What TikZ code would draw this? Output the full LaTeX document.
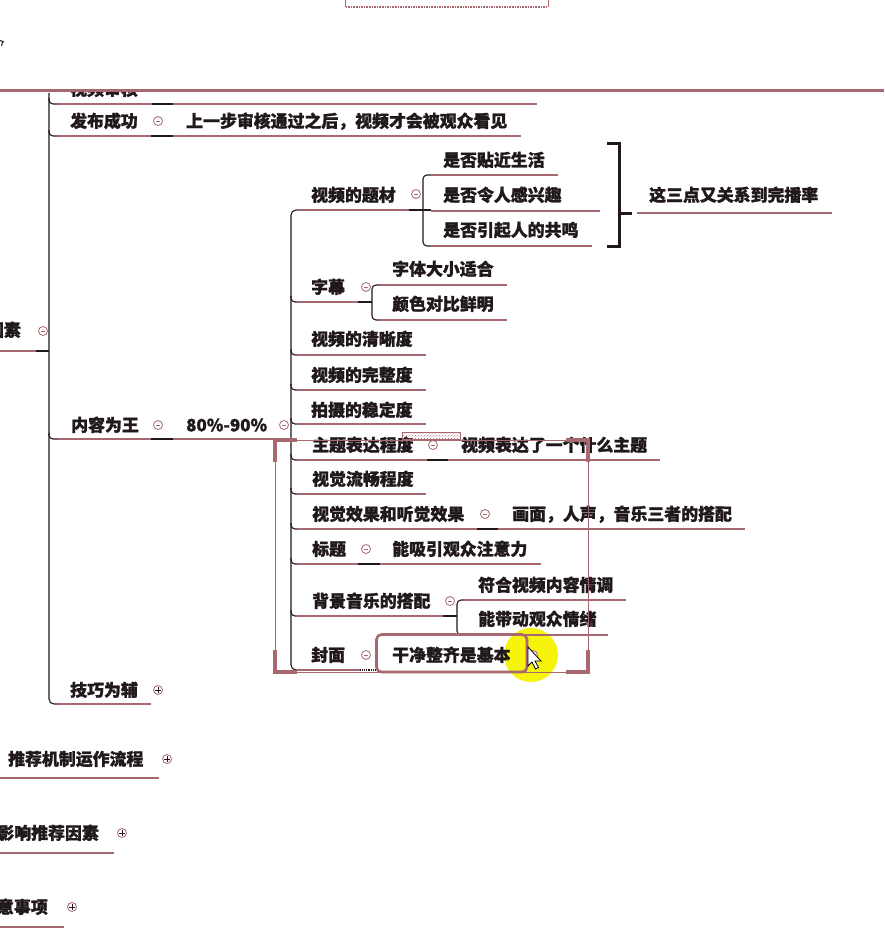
\documentclass[tikz,border=0pt]{standalone}
\usepackage{fontspec}
\newfontfamily\cjk{Noto Sans CJK SC}[BoldFeatures={FakeBold=1.3}]
\usetikzlibrary{patterns}
\definecolor{mauve}{RGB}{168,104,112}
\definecolor{ink}{RGB}{32,24,28}
\definecolor{hl}{RGB}{246,244,12}
\newcommand\tx[4]{\node[lbl,anchor=base west] (#1) at (#2,#3+6.3) {#4};}
\newcommand\txe[4]{\node[lbl,anchor=base east] (#1) at (#2,#3+6.3) {#4};}
\newcommand\ul[3]{\draw[ulin] (#1,#3) -- (#2,#3);}
\newcommand\mn[3]{\node[tog] (#1) at (#2,#3) {};\draw[mauve,line width=0.9pt] ([xshift=-2.4pt]#1.center) -- ([xshift=2.4pt]#1.center);}
\newcommand\pl[3]{\node[tog] (#1) at (#2,#3) {};\draw[ink,line width=0.9pt] ([xshift=-2.6pt]#1.center) -- ([xshift=2.6pt]#1.center) ([yshift=-2.6pt]#1.center) -- ([yshift=2.6pt]#1.center);}
\newcommand\stub[3]{\draw[conn,rounded corners=4pt] (#1,#3-6) |- (#2,#3);}
\begin{document}
\begin{tikzpicture}[x=1pt,y=-1pt,
  lbl/.style={inner sep=0pt,font=\cjk\bfseries\fontsize{16.9}{18}\selectfont,text=ink},
  ulin/.style={draw=mauve,line width=2.6pt},
  conn/.style={draw=ink,line width=1.1pt},
  tog/.style={circle,draw=mauve,line width=0.8pt,minimum size=9pt,inner sep=0pt,fill=white}]
\fill[white] (0,0) rectangle (884,944);
\useasboundingbox (0,0) rectangle (884,944);
\clip (0,0) rectangle (884,944);

% cursor highlight
\fill[hl] (531,655) circle (27);

% top fragments
\draw[mauve,line width=1pt] (345.5,-2) -- (345.5,7);
\draw[mauve,line width=1pt] (548,-2) -- (548,7);
\draw[mauve,line width=1.6pt,densely dotted] (345.5,7) -- (548,7);
\draw[ink,line width=1pt] (0,40.5) -- (4,42) (2.6,41.6) -- (1.6,46);

% partially hidden node
\begin{scope}
\clip (0,93) rectangle (884,120);
\tx{sh}{70}{89}{视频审核}
\end{scope}
\draw[mauve,line width=3pt] (0,91) -- (884,91);

% root fragment
\txe{ys}{21}{330}{因素}
\ul{0}{36}{351}
\mn{ysm}{43}{331}
\draw[conn] (36,351) -- (49,351);

% main vertical
\draw[conn,rounded corners=5pt] (49,93) -- (49,704) -- (58,704);
\stub{49}{58}{104}
\stub{49}{58}{136}
\stub{49}{58}{439}

% 视频审核
\ul{58}{152}{104}
\draw[conn] (152,104) -- (173,104);
\ul{173}{537}{104}

% 发布成功
\tx{fb}{70}{121}{发布成功}
\ul{58}{151}{136}
\mn{fbm}{158}{121}
\draw[conn] (151,136) -- (173,136);
\tx{fbr}{186}{121}{上一步审核通过之后，视频才会被观众看见}
\ul{173}{521}{136}

% 内容为王
\tx{nr}{71}{425}{内容为王}
\ul{58}{151}{439}
\mn{nrm}{158}{425}
\draw[conn] (151,439) -- (173,439);
\tx{pct}{186}{425}{80\%-90\%}
\ul{173}{291}{439}
\mn{pctm}{284}{425}

% sub vertical
\draw[conn,rounded corners=5pt] (298,210) -- (291,210) -- (291,670) -- (298,670);
\stub{291}{298}{302}
\stub{291}{298}{355}
\stub{291}{298}{390}
\stub{291}{298}{424}
\stub{291}{298}{460}
\stub{291}{298}{494}
\stub{291}{298}{529}
\stub{291}{298}{564}
\stub{291}{298}{616}

% 视频的题材
\tx{tc}{311}{195}{视频的题材}
\ul{297}{409}{210}
\mn{tcm}{416}{194}
\draw[conn] (409,210) -- (431,210);
\draw[conn,rounded corners=4pt] (431,175) -- (423,175) -- (423,246) -- (431,246);
\tx{a1}{443}{160}{是否贴近生活}
\ul{431}{558}{175}
\tx{a2}{443}{195}{是否令人感兴趣}
\ul{431}{600}{211}
\tx{a3}{443}{230}{是否引起人的共鸣}
\ul{431}{592}{246}
\draw[ink,line width=3pt] (607,143.5) -- (619.5,143.5) -- (619.5,246) -- (607,246);
\draw[ink,line width=3pt] (619.5,213) -- (632,213);
\tx{sum}{649}{195}{这三点又关系到完播率}
\ul{637}{832}{213}

% 字幕
\tx{zm}{311}{287}{字幕}
\ul{297}{358}{302}
\mn{zmm}{366}{287}
\draw[conn] (358,302) -- (372,302);
\draw[conn,rounded corners=4pt] (380,285) -- (372,285) -- (372,320) -- (380,320);
\tx{b1}{392}{269}{字体大小适合}
\ul{380}{507}{285}
\tx{b2}{392}{304}{颜色对比鲜明}
\ul{380}{507}{320}

% simple children
\tx{c1}{311}{339}{视频的清晰度}
\ul{297}{426}{355}
\tx{c2}{311}{375}{视频的完整度}
\ul{297}{426}{390}
\tx{c3}{311}{410}{拍摄的稳定度}
\ul{297}{426}{424}

% 主题表达程度
\tx{d1}{312}{445}{主题表达程度}
\ul{297}{427}{460}
\mn{d1m}{433}{445}
\draw[conn] (427,460) -- (448,460);
\tx{d1r}{461}{445}{视频表达了一个什么主题}
\ul{448}{660}{460}

\tx{d2}{312}{479}{视觉流畅程度}
\ul{297}{426}{494}

% 视觉效果和听觉效果
\tx{d3}{312}{514}{视觉效果和听觉效果}
\ul{297}{477}{529}
\mn{d3m}{485}{514}
\draw[conn] (477,529) -- (498,529);
\tx{d3r}{512}{514}{画面，人声，音乐三者的搭配}
\ul{498}{745}{529}

% 标题
\tx{d4}{312}{549}{标题}
\ul{297}{358}{564}
\mn{d4m}{366}{549}
\draw[conn] (358,564) -- (380,564);
\tx{d4r}{392}{549}{能吸引观众注意力}
\ul{380}{541}{564}

% 背景音乐的搭配
\tx{d5}{312}{601}{背景音乐的搭配}
\ul{297}{443}{616}
\mn{d5m}{450}{601}
\draw[conn] (443,616) -- (457,616);
\draw[conn,rounded corners=4pt] (465,600) -- (457,600) -- (457,635) -- (465,635);
\tx{e1}{478}{585}{符合视频内容情调}
\ul{465}{626}{600}
\tx{e2}{478}{619}{能带动观众情绪}
\ul{465}{608}{635}

% 封面
\tx{d6}{311}{655}{封面}
\ul{297}{360}{670}
\mn{d6m}{366}{655}
\draw[conn,densely dotted] (360,670) -- (378,670);
\tx{d6r}{392}{655}{干净整齐是基本}
\draw[mauve,line width=2.6pt,rounded corners=5pt] (376.5,634.5) rectangle (527,672);
\pl{d6p}{533}{655}

% 技巧为辅
\tx{jq}{70}{690}{技巧为辅}
\ul{58}{151}{704}
\pl{jqp}{158}{690}

% lower topics
\tx{tj}{8}{759}{推荐机制运作流程}
\ul{0}{159}{778}
\pl{tjp}{167}{759}
\txe{yx}{99}{833}{影响推荐因素}
\ul{0}{114}{853}
\pl{yxp}{122}{833}
\txe{zy}{48}{907}{意事项}
\ul{0}{64}{927}
\pl{zyp}{72}{907}

% selection frame overlay
\draw[mauve,line width=1pt] (275,440) rectangle (588,672);
\draw[mauve,line width=4pt] (275,462) -- (275,440) -- (297,440);
\draw[mauve,line width=4pt] (566,440) -- (588,440) -- (588,462);
\draw[mauve,line width=4pt] (275,650) -- (275,672) -- (297,672);
\draw[mauve,line width=4pt] (566,672) -- (588,672) -- (588,650);
\filldraw[draw=mauve,line width=0.8pt,pattern=crosshatch dots,pattern color=mauve] (402,432) rectangle (460,439);

% mouse cursor
\filldraw[fill=white,draw=black,line width=0.8pt,line join=miter] (528,647) -- (528,666) -- (532,662) -- (535.5,669) -- (538.5,667.5) -- (535,661) -- (541,661) -- cycle;
\end{tikzpicture}
\end{document}
